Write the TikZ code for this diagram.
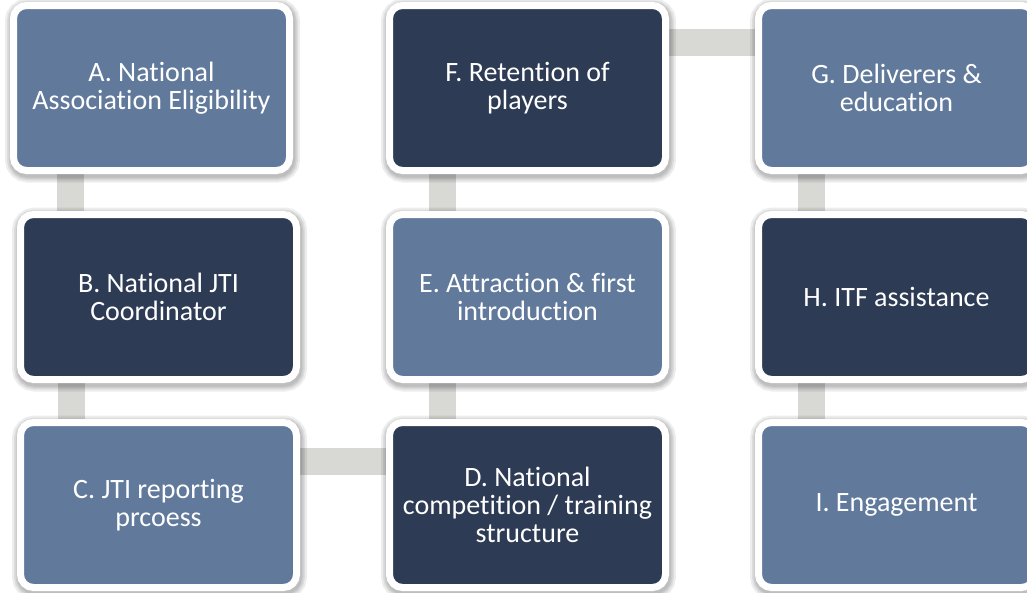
\documentclass[tikz,border=0pt]{standalone}
\usepackage{fontspec}
\setmainfont{Carlito}[Ligatures={NoCommon}]
\newcommand\nolig{\kern0pt{}}
\usetikzlibrary{backgrounds}
\definecolor{lightbox}{HTML}{617A9C}
\definecolor{darkbox}{HTML}{2E3B55}
\definecolor{barcol}{HTML}{D8D9D5}
\begin{document}
\begin{tikzpicture}[x=1pt,y=-1pt,
  halo/.style={preaction={draw=black, fill=none, line width=#1, draw opacity=0.07,
    transform canvas={xshift=1pt, yshift=-2.5pt}}},
  box/.style={halo=19pt, halo=15pt, halo=12pt, halo=9pt,
    rounded corners=13pt, line width=7pt, draw=white,
    minimum width=276pt, minimum height=165pt, inner sep=0pt,
    text=white, align=center, font=\fontsize{28}{28}\selectfont},
  lightfill/.style={box, fill=lightbox},
  darkfill/.style={box, fill=darkbox},
  bar/.style={fill=barcol, draw=none}]
\useasboundingbox (0,0) rectangle (1027,592);
\clip (0,0) rectangle (1027,592);
\node[lightfill] (A) at (151.5,88) {A. Nat\nolig ional\\Associat\nolig ion Eligibility};
\node[darkfill]  (B) at (158.5,297) {B. Nat\nolig ional JTI\\Coordinator};
\node[lightfill] (C) at (158.5,505) {C. JTI reporting\\prcoess};
\node[darkfill]  (D) at (527.5,505) {D. Nat\nolig ional\\compet\nolig it\nolig ion / training\\structure};
\node[lightfill] (E) at (527.5,297) {E. Attract\nolig ion \& f\nolig irst\\introduct\nolig ion};
\node[darkfill]  (F) at (527.5,88) {F. Retent\nolig ion of\\players};
\node[lightfill] (G) at (896.5,88) {G. Deliverers \&\\educat\nolig ion};
\node[darkfill]  (H) at (896.5,297) {H. ITF assistance};
\node[lightfill] (I) at (896.5,505) {I. Engagement};
\begin{scope}[on background layer]
\path[bar] ([xshift=39.5pt]B.north west |- A.south) rectangle ([xshift=66.5pt]B.north west);
\path[bar] ([xshift=40.5pt]B.south west) rectangle ([xshift=67.5pt]C.north west);
\path[bar] ([yshift=-28.5pt]C.north east) rectangle ([yshift=-55.5pt]D.north west);
\path[bar] ([xshift=42.5pt]E.south west) rectangle ([xshift=69.5pt]D.north west);
\path[bar] ([xshift=42.5pt]F.south west) rectangle ([xshift=69.5pt]E.north west);
\path[bar] ([yshift=-27pt]F.north east) rectangle ([yshift=-54pt]G.north west);
\path[bar] ([xshift=42.5pt]G.south west) rectangle ([xshift=69.5pt]H.north west);
\path[bar] ([xshift=42.5pt]H.south west) rectangle ([xshift=69.5pt]I.north west);
\end{scope}
\end{tikzpicture}
\end{document}
